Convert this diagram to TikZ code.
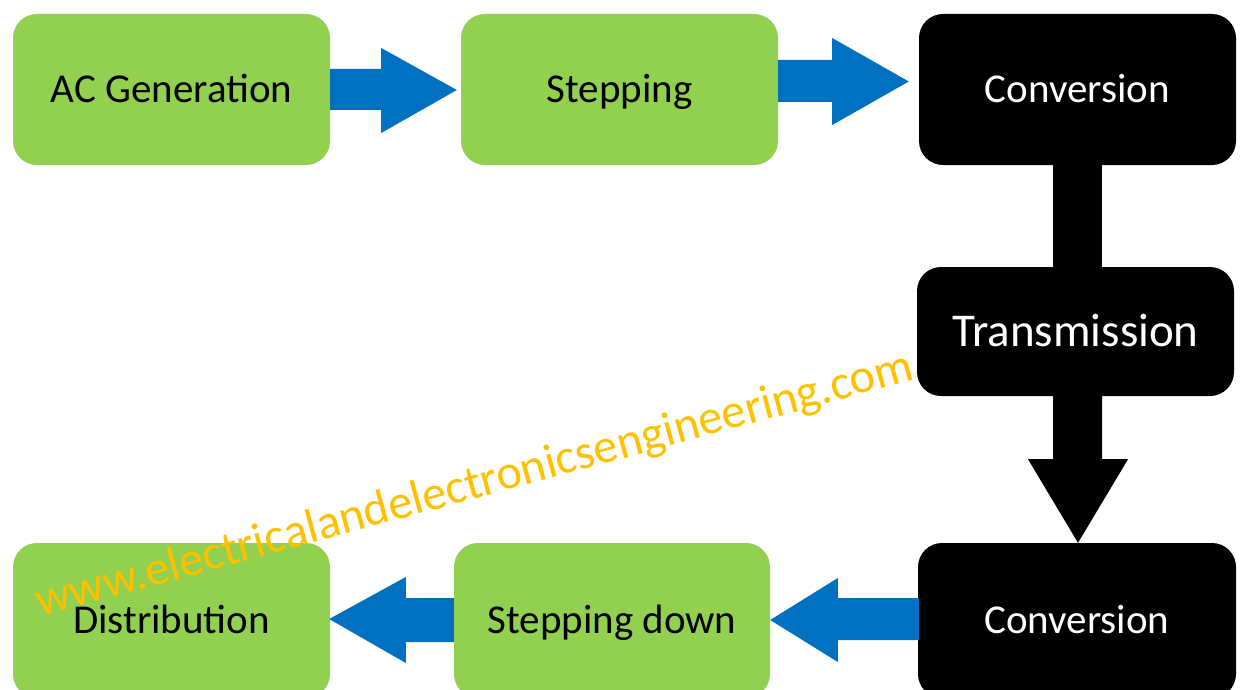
\documentclass[tikz,border=0pt]{standalone}
\usepackage{fontspec}
\setmainfont{Carlito}
\usetikzlibrary{calc}
\definecolor{boxgreen}{HTML}{92D050}
\definecolor{arrblue}{HTML}{0070C0}
\definecolor{wmark}{HTML}{FFC000}
\begin{document}
\begin{tikzpicture}[x=1pt,y=-1pt,
  gbox/.style={fill=boxgreen, draw=none, rounded corners=24pt, minimum width=317pt, minimum height=151pt, inner sep=0pt, text height=26pt, text depth=0pt, font=\fontsize{41}{41}\selectfont, text=black},
  kbox/.style={gbox, fill=black, text=white},
  barrow/.style={fill=arrblue, draw=none},
  karrow/.style={fill=black, draw=none},
  wmstyle/.style={text=wmark, inner sep=0pt, font=\fontsize{48.3}{48}\selectfont}
]
\useasboundingbox (0,0) rectangle (1244,690);
% boxes
\node[gbox] (ac) at (171.5,89.5) {AC Generation};
\node[gbox] (st) at (619.5,89.5) {Stepping};
\node[kbox] (cv1) at (1077.5,89.5) {Conversion};
\node[kbox, minimum height=129pt, text height=29.5pt, font=\fontsize{47}{47}\selectfont] (tr) at (1075.5,331.5) {Transmission};
\node[kbox, minimum height=155pt, minimum width=318pt] (cv2) at (1077,620.5) {Conversion};
\node[gbox, minimum height=155pt, minimum width=316pt] (sd) at (612,620.5) {Stepping down};
\node[gbox, minimum height=155pt] (di) at (171.5,620.5) {Distribution};
% arrow AC -> Stepping
\fill[barrow] ($(ac.east)+(0,-20.5)$) -- ++(51,0) -- ++(0,-21) -- ($(st.west)+(-4,0.5)$)
  -- ($(ac.east)+(51,43.5)$) -- ++(0,-23) -- ($(ac.east)+(0,20.5)$) -- cycle;
% arrow Stepping -> Conversion
\fill[barrow] ($(st.east)+(0,-29.5)$) -- ++(54,0) -- ++(0,-22) -- ($(cv1.west)+(-10,-8)$)
  -- ($(st.east)+(54,35.5)$) -- ++(0,-23) -- ($(st.east)+(0,12.5)$) -- cycle;
% shaft Conversion -> Transmission
\fill[karrow] ($(cv1.south)+(-24.5,-1)$) rectangle ($(tr.north)+(26.5,1)$);
% arrow Transmission -> Conversion
\fill[karrow] ($(tr.south)+(-22.5,-1)$) -- ++(0,64) -- ++(-25,0) -- ($(cv2.north)+(1,0)$)
  -- ($(tr.south)+(52.5,63)$) -- ++(-26,0) -- ($(tr.south)+(26.5,-1)$) -- cycle;
% arrow Conversion -> Stepping down
\fill[barrow] ($(cv2.west)+(1,-22.5)$) -- ++(-81,0) -- ++(0,-20) -- ($(sd.east)+(0,-0.5)$)
  -- ($(cv2.west)+(-80,41.5)$) -- ++(0,-22) -- ($(cv2.west)+(1,19.5)$) -- cycle;
% arrow Stepping down -> Distribution
\fill[barrow] ($(sd.west)+(0,-22.5)$) -- ++(-48,0) -- ++(0,-21) -- ($(di.east)+(-1,-1.5)$)
  -- ($(sd.west)+(-48,42.5)$) -- ++(0,-21) -- ($(sd.west)+(0,21.5)$) -- cycle;
% watermark
\node[wmstyle, anchor=base west, rotate=15.2] (wm) at (40,617) {www.electricalandelectronicsengineering.com};
\end{tikzpicture}
\end{document}
